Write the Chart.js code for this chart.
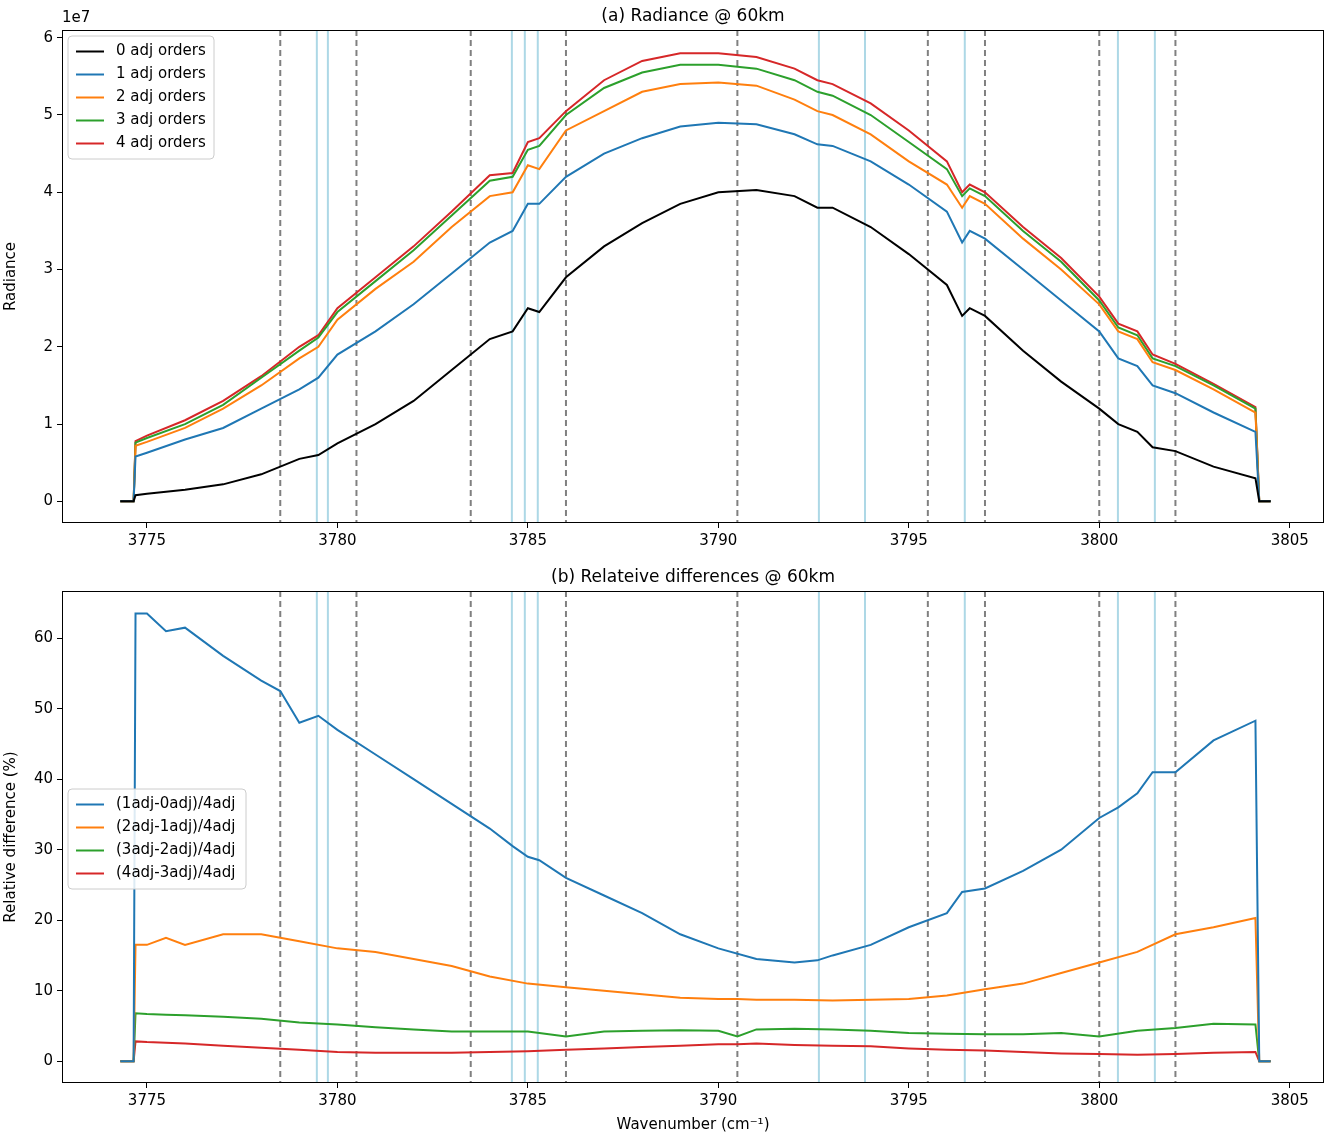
<!DOCTYPE html>
<html>
<head>
<meta charset="utf-8">
<script src="https://cdn.jsdelivr.net/npm/chart.js@4"></script>
<style>
  body { margin: 0; background: #fff; }
  #wrapTop { position: absolute; left: 0; top: 0; width: 1328px; height: 560px; }
  #wrapBot { position: absolute; left: 0; top: 560px; width: 1328px; height: 576px; }
</style>
</head>
<body>
<div id="wrapTop"><canvas id="topChart"></canvas></div>
<div id="wrapBot"><canvas id="botChart"></canvas></div>
<script>
// x ticks
const xTicks = [3775, 3780, 3785, 3790, 3795, 3800, 3805];
const grayLines = [3778.5, 3780.5, 3783.5, 3786.0, 3790.5, 3795.5, 3797.0, 3800.0, 3802.0];
const blueLines = [3779.46, 3779.75, 3784.58, 3784.92, 3785.26, 3792.64, 3793.85, 3796.47, 3800.49, 3801.46];

// radiance (units of 1e7)
const radX = [3774.3, 3774.65, 3774.7, 3775, 3776, 3777, 3778, 3779, 3779.5, 3780, 3781, 3782, 3783, 3784, 3784.6, 3785, 3785.3, 3786, 3787, 3788, 3789, 3790, 3791, 3792, 3792.6, 3793, 3794, 3795, 3796, 3796.4, 3796.6, 3797, 3798, 3799, 3800, 3800.5, 3801, 3801.4, 3802, 3803, 3804.1, 3804.2, 3804.5];
const rad0 = [0, 0, 0.08, 0.1, 0.15, 0.22, 0.35, 0.55, 0.6, 0.75, 1.0, 1.3, 1.7, 2.1, 2.2, 2.5, 2.45, 2.9, 3.3, 3.6, 3.85, 4.0, 4.03, 3.95, 3.8, 3.8, 3.55, 3.2, 2.8, 2.4, 2.5, 2.4, 1.95, 1.55, 1.2, 1.0, 0.9, 0.7, 0.65, 0.45, 0.3, 0, 0];
const rad1 = [0, 0, 0.58, 0.63, 0.8, 0.95, 1.2, 1.45, 1.6, 1.9, 2.2, 2.55, 2.95, 3.35, 3.5, 3.85, 3.85, 4.2, 4.5, 4.7, 4.85, 4.9, 4.88, 4.75, 4.62, 4.6, 4.4, 4.1, 3.75, 3.35, 3.5, 3.4, 3.0, 2.6, 2.2, 1.85, 1.75, 1.5, 1.4, 1.15, 0.9, 0, 0];
const rad2 = [0, 0, 0.72, 0.77, 0.95, 1.2, 1.5, 1.85, 2.0, 2.35, 2.75, 3.1, 3.55, 3.95, 4.0, 4.35, 4.3, 4.8, 5.05, 5.3, 5.4, 5.42, 5.38, 5.2, 5.05, 5.0, 4.75, 4.4, 4.1, 3.8, 3.95, 3.85, 3.4, 3.0, 2.55, 2.2, 2.1, 1.8, 1.7, 1.45, 1.15, 0, 0];
const rad3 = [0, 0, 0.76, 0.82, 1.0, 1.25, 1.6, 1.95, 2.12, 2.45, 2.85, 3.25, 3.7, 4.15, 4.2, 4.55, 4.6, 5.0, 5.35, 5.55, 5.65, 5.65, 5.6, 5.45, 5.3, 5.25, 5.0, 4.65, 4.3, 3.95, 4.05, 3.95, 3.5, 3.1, 2.6, 2.25, 2.15, 1.85, 1.75, 1.5, 1.2, 0, 0];
const rad4 = [0, 0, 0.78, 0.85, 1.05, 1.3, 1.62, 2.0, 2.15, 2.5, 2.9, 3.3, 3.75, 4.22, 4.25, 4.65, 4.7, 5.05, 5.45, 5.7, 5.8, 5.8, 5.75, 5.6, 5.45, 5.4, 5.15, 4.8, 4.4, 4.0, 4.1, 4.0, 3.55, 3.15, 2.65, 2.3, 2.2, 1.9, 1.78, 1.52, 1.22, 0, 0];

// relative differences (%)
const d1X = [3774.3, 3774.65, 3774.7, 3775, 3775.5, 3776, 3777, 3778, 3778.5, 3779, 3779.5, 3780, 3781, 3782, 3783, 3784, 3784.6, 3785, 3785.3, 3786, 3787, 3788, 3789, 3790, 3791, 3792, 3792.6, 3793, 3794, 3795, 3796, 3796.4, 3797, 3798, 3799, 3800, 3800.5, 3801, 3801.4, 3802, 3803, 3804.1, 3804.2, 3804.5];
const d1 = [0, 0, 63.5, 63.5, 61, 61.5, 57.5, 54, 52.5, 48, 49, 47, 43.5, 40, 36.5, 33, 30.5, 29, 28.5, 26, 23.5, 21, 18, 16, 14.5, 14, 14.3, 15, 16.5, 19, 21, 24, 24.5, 27, 30, 34.5, 36, 38, 41, 41, 45.5, 48.3, 0, 0];
const dX = [3774.3, 3774.65, 3774.7, 3775, 3775.5, 3776, 3777, 3778, 3779, 3780, 3781, 3782, 3783, 3784, 3785, 3786, 3787, 3788, 3789, 3790, 3790.5, 3791, 3792, 3793, 3794, 3795, 3796, 3797, 3798, 3799, 3800, 3801, 3802, 3803, 3804.1, 3804.2, 3804.5];
const d2 = [0, 0, 16.5, 16.5, 17.5, 16.5, 18, 18, 17, 16, 15.5, 14.5, 13.5, 12, 11, 10.5, 10, 9.5, 9, 8.8, 8.8, 8.7, 8.7, 8.6, 8.7, 8.8, 9.3, 10.2, 11, 12.5, 14, 15.5, 18, 19, 20.3, 0, 0];
const d3 = [0, 0, 6.8, 6.7, 6.6, 6.5, 6.3, 6.0, 5.5, 5.2, 4.8, 4.5, 4.2, 4.2, 4.2, 3.5, 4.2, 4.3, 4.4, 4.3, 3.5, 4.5, 4.6, 4.5, 4.3, 4.0, 3.9, 3.8, 3.8, 4.0, 3.5, 4.3, 4.7, 5.3, 5.2, 0, 0];
const d4 = [0, 0, 2.8, 2.7, 2.6, 2.5, 2.2, 1.9, 1.6, 1.3, 1.2, 1.2, 1.2, 1.3, 1.4, 1.6, 1.8, 2.0, 2.2, 2.4, 2.4, 2.5, 2.3, 2.2, 2.1, 1.8, 1.6, 1.5, 1.3, 1.1, 1.0, 0.9, 1.0, 1.2, 1.3, 0, 0];

const FONT = 'DejaVu Sans';
Chart.defaults.font.family = FONT;
Chart.defaults.font.size = 15;
Chart.defaults.color = '#000';

function pts(xs, ys) { return xs.map((x, i) => ({ x, y: ys[i] })); }
function ds(label, color, xs, ys) {
  return { label, borderColor: color, backgroundColor: color, borderWidth: 2, pointRadius: 0, tension: 0, data: pts(xs, ys) };
}

const decor = {
  id: 'decor',
  beforeDatasetsDraw(chart) {
    const ctx = chart.ctx, a = chart.chartArea, xs = chart.scales.x;
    ctx.save();
    ctx.lineWidth = 2;
    ctx.strokeStyle = '#808080';
    ctx.setLineDash([6, 4]);
    grayLines.forEach(v => {
      const p = xs.getPixelForValue(v);
      ctx.beginPath(); ctx.moveTo(p, a.top); ctx.lineTo(p, a.bottom); ctx.stroke();
    });
    ctx.setLineDash([]);
    ctx.strokeStyle = '#add8e6';
    blueLines.forEach(v => {
      const p = xs.getPixelForValue(v);
      ctx.beginPath(); ctx.moveTo(p, a.top); ctx.lineTo(p, a.bottom); ctx.stroke();
    });
    ctx.restore();
  },
  afterDraw(chart, args, opts) {
    const ctx = chart.ctx, a = chart.chartArea;
    ctx.save();
    ctx.strokeStyle = '#000'; ctx.lineWidth = 1;
    ctx.strokeRect(a.left + 0.5, a.top + 0.5, a.right - a.left - 1, a.bottom - a.top - 1);
    ctx.fillStyle = '#000';
    ctx.font = '17px ' + FONT;
    ctx.textAlign = 'center'; ctx.textBaseline = 'bottom';
    ctx.fillText(opts.title, (a.left + a.right) / 2, a.top - 5);
    if (opts.exp) {
      ctx.font = '15px ' + FONT; ctx.textAlign = 'left';
      ctx.fillText(opts.exp, a.left, a.top - 4);
    }
    // legend
    const L = opts.legend;
    const sets = chart.data.datasets;
    const rowH = 23, w = L.w, h = sets.length * rowH + 8;
    ctx.fillStyle = 'rgba(255,255,255,0.85)';
    ctx.strokeStyle = '#ccc';
    ctx.beginPath(); ctx.roundRect(L.x, L.y, w, h, 4); ctx.fill(); ctx.stroke();
    ctx.font = '15px ' + FONT; ctx.textBaseline = 'middle'; ctx.textAlign = 'left';
    sets.forEach((d, i) => {
      const y = L.y + 4 + rowH * i + rowH / 2;
      ctx.strokeStyle = d.borderColor; ctx.lineWidth = 2;
      ctx.beginPath(); ctx.moveTo(L.x + 8, y); ctx.lineTo(L.x + 36, y); ctx.stroke();
      ctx.fillStyle = '#000';
      ctx.fillText(d.label, L.x + 48, y);
    });
    ctx.restore();
  }
};

function makeChart(id, datasets, cfg) {
  return new Chart(document.getElementById(id), {
    type: 'line',
    data: { datasets },
    plugins: [decor],
    options: {
      responsive: true, maintainAspectRatio: false, animation: false,
      layout: { padding: { top: cfg.padTop, right: 4 } },
      plugins: {
        legend: { display: false }, tooltip: { enabled: false },
        decor: { title: cfg.title, exp: cfg.exp, legend: cfg.legend }
      },
      scales: {
        x: {
          type: 'linear', min: 3772.77, max: 3805.9,
          afterBuildTicks: s => { s.ticks = xTicks.map(v => ({ value: v })); },
          afterFit: s => { s.height = cfg.xH; },
          grid: { drawOnChartArea: false, color: '#000', tickLength: 5 },
          border: { display: false },
          ticks: { color: '#000', padding: 4, maxRotation: 0, callback: v => v },
          title: { display: !!cfg.xTitle, text: cfg.xTitle, padding: 2 }
        },
        y: {
          min: cfg.yMin, max: cfg.yMax,
          afterBuildTicks: s => { s.ticks = cfg.yTicks.map(v => ({ value: v })); },
          afterFit: s => { s.width = 62; },
          grid: { drawOnChartArea: false, color: '#000', tickLength: 5 },
          border: { display: false },
          ticks: { color: '#000', padding: 4, callback: v => v },
          title: { display: true, text: cfg.yTitle, padding: 2 }
        }
      }
    }
  });
}

makeChart('topChart', [
  ds('0 adj orders', '#000000', radX, rad0),
  ds('1 adj orders', '#1f77b4', radX, rad1),
  ds('2 adj orders', '#ff7f0e', radX, rad2),
  ds('3 adj orders', '#2ca02c', radX, rad3),
  ds('4 adj orders', '#d62728', radX, rad4)
], {
  padTop: 30, xH: 37, yMin: -0.28, yMax: 6.1, yTicks: [0, 1, 2, 3, 4, 5, 6],
  yTitle: 'Radiance', title: '(a) Radiance @ 60km', exp: '1e7',
  legend: { x: 68, y: 36, w: 146 }
});

makeChart('botChart', [
  ds('(1adj-0adj)/4adj', '#1f77b4', d1X, d1),
  ds('(2adj-1adj)/4adj', '#ff7f0e', dX, d2),
  ds('(3adj-2adj)/4adj', '#2ca02c', dX, d3),
  ds('(4adj-3adj)/4adj', '#d62728', dX, d4)
], {
  padTop: 31, xH: 53, yMin: -3.1, yMax: 66.7, yTicks: [0, 10, 20, 30, 40, 50, 60],
  yTitle: 'Relative difference (%)', title: '(b) Relateive differences @ 60km',
  xTitle: 'Wavenumber (cm\u207B\u00B9)',
  legend: { x: 68, y: 229, w: 178 }
});
</script>
</body>
</html>
